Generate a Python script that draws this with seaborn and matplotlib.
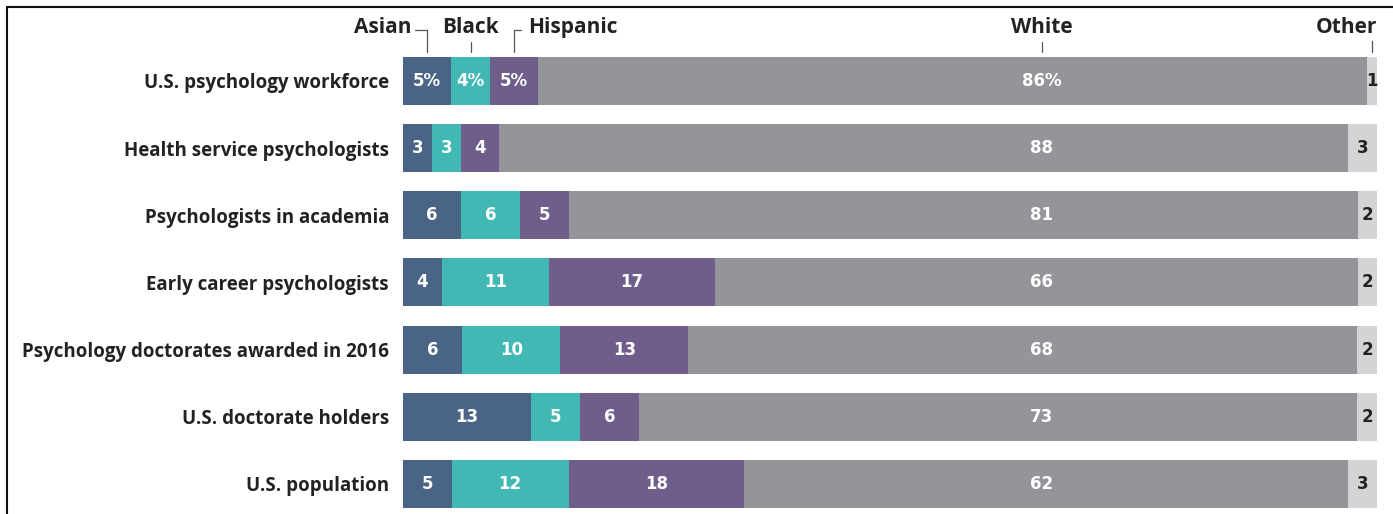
import matplotlib
matplotlib.use("Agg")
import matplotlib.pyplot as plt
from matplotlib.lines import Line2D
import seaborn as sns
import numpy as np
import pandas as pd

categories = [
    "U.S. psychology workforce",
    "Health service psychologists",
    "Psychologists in academia",
    "Early career psychologists",
    "Psychology doctorates awarded in 2016",
    "U.S. doctorate holders",
    "U.S. population",
]
groups = ["Asian", "Black", "Hispanic", "White", "Other"]
asian = [5, 3, 6, 4, 6, 13, 5]
black = [4, 3, 6, 11, 10, 5, 12]
hispanic = [5, 4, 5, 17, 13, 6, 18]
white = [86, 88, 81, 66, 68, 73, 62]
other = [1, 3, 2, 2, 2, 2, 3]

colors = ["#4a6485", "#41b8b4", "#6f5d8b", "#939598", "#d3d4d6"]
text_colors = ["white", "white", "white", "white", "#222222"]

sns.set_theme(style="white")
plt.rcParams["font.family"] = ["Open Sans", "DejaVu Sans"]

W, H = 1393, 514
fig = plt.figure(figsize=(W / 100, H / 100), dpi=100)
ax = fig.add_axes([403 / W, 0.0, 974 / W, 1 - 47.4 / H])

vals = np.array([asian, black, hispanic, white, other], dtype=float)
shares = vals / vals.sum(axis=0) * 100
cum = np.cumsum(shares, axis=0)

# layered cumulative bars -> stacked look
for i in range(len(groups) - 1, -1, -1):
    df = pd.DataFrame({"cat": categories, "v": cum[i]})
    sns.barplot(data=df, x="v", y="cat", orient="h", color=colors[i],
                saturation=1, width=0.715, ax=ax, linewidth=0)

ax.set_xlim(0, 100)
ax.set_ylim(6.447, -0.5)
ax.set_xlabel("")
ax.set_ylabel("")
ax.set_xticks([])
ax.set_yticks(range(len(categories)))
ax.set_yticklabels(categories, fontsize=13.5, fontweight="bold", color="#222222")
ax.tick_params(axis="y", length=0, pad=10)
sns.despine(ax=ax, left=True, bottom=True)

starts = cum - shares
centers = starts + shares / 2
for r in range(len(categories)):
    for i in range(len(groups)):
        v = int(vals[i, r])
        label = f"{v}%" if (r == 0 and i < 4) else str(v)
        x = 65.6 if i == 3 else centers[i, r]
        ax.text(x, r, label, ha="center", va="center", fontsize=12,
                fontweight="bold", color=text_colors[i],
                family=["DejaVu Sans"])

# header labels tied to the first row's segments
line_kw = dict(color="#555555", lw=0.9, clip_on=False)
y_txt = -0.80
y_bot = -0.43
xa, xb, xh, xw, xo = centers[0, 0], centers[1, 0], centers[2, 0], 65.6, centers[4, 0]
hkw = dict(fontsize=15, fontweight="bold", color="#222222", va="center")
ax.text(xa - 1.6, y_txt, "Asian", ha="right", **hkw)
ax.plot([xa - 1.2, xa, xa], [-0.76, -0.76, y_bot], **line_kw)
ax.text(xb, y_txt, "Black", ha="center", **hkw)
ax.plot([xb, xb], [-0.58, y_bot], **line_kw)
ax.text(xh + 1.5, y_txt, "Hispanic", ha="left", **hkw)
ax.plot([xh + 0.7, xh, xh], [-0.76, -0.76, y_bot], **line_kw)
ax.text(xw, y_txt, "White", ha="center", **hkw)
ax.plot([xw, xw], [-0.58, y_bot], **line_kw)
ax.text(100, y_txt, "Other", ha="right", **hkw)
ax.plot([xo, xo], [-0.60, y_bot], **line_kw)

# frame lines at top and left
fig.add_artist(Line2D([7 / W, 1], [1 - 7 / H, 1 - 7 / H], color="#111111", lw=1.5))
fig.add_artist(Line2D([7 / W, 7 / W], [0, 1 - 7 / H], color="#111111", lw=1.5))

fig.savefig("out.png", dpi=100)
